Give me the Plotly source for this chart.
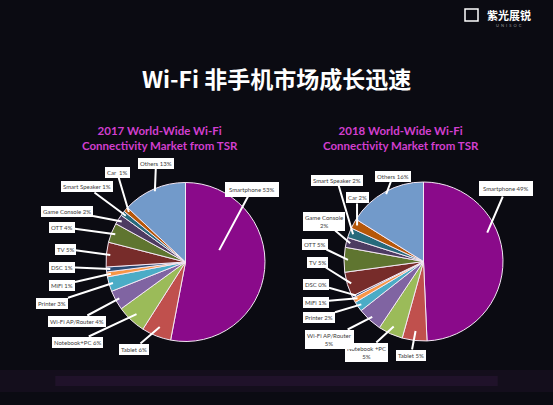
import math
import plotly.graph_objects as go

# ---------------- data ----------------
categories = ["Smartphone", "Tablet", "Notebook+PC", "Wi-Fi AP/Router", "Printer", "MiFi",
              "DSC", "TV", "OTT", "Game Console", "Smart Speaker", "Car", "Others"]
share_2017 = [53, 6, 6, 4, 3, 1, 1, 5, 4, 2, 1, 1, 13]
share_2018 = [49, 5, 5, 5, 2, 1, 0.4, 5, 5, 2, 2, 2, 16]
names_2017 = ["Smartphone", "Tablet", "Notebook+PC", "Wi-Fi AP/Router", "Printer", "MiFi",
              "DSC", "TV", "OTT", "Game Console", "Smart Speaker", "Car ", "Others"]
names_2018 = ["Smartphone", "Tablet", "Notebook +PC<br>", "Wi-Fi AP/Router<br>", "Printer", "MiFi",
              "DSC", "TV", "OTT", "Game Console<br>", "Smart Speaker", "Car", "Others"]
title_main = "Wi-Fi 非手机市场成长迅速"
title_2017 = "2017 World-Wide Wi-Fi<br>Connectivity Market from TSR"
title_2018 = "2018 World-Wide Wi-Fi<br>Connectivity Market from TSR"

colors = ["#8a0a8a", "#c0504d", "#9bbb59", "#8064a2", "#4bacc6", "#f79646",
          "#2c4d75", "#772c2a", "#5f7530", "#4d3b62", "#276a7c", "#b65708", "#729aca"]

W, H = 553, 405
BG = "#0b0b12"

# ---------------- layout constants (pixels) ----------------
pie_left = dict(cx=185.5, cy=262, r=79.5)
pie_right = dict(cx=423.5, cy=261.5, r=79.5)

box_2017 = [(252, 189), (134, 349), (77, 342), (77, 321), (52, 303), (62, 285), (62, 267),
            (65, 249), (62, 227), (67, 211), (87, 187), (117, 172), (156, 163)]
box_2018 = [(506, 189), (411, 355), (366, 352), (329, 339), (319, 317), (316, 302), (316, 284),
            (317, 262), (315, 244), (324, 221), (337, 180), (357, 198), (393, 176)]
tip_r_2017 = [0.45, 0.88, 0.9, 0.95, 0.95, 0.95, 0.95, 0.95, 0.95, 0.95, 0.95, 0.95, 0.97]
tip_r_2018 = [0.88, 0.88, 0.9, 0.95, 0.95, 0.95, 0.95, 0.95, 0.95, 0.95, 0.95, 0.95, 0.97]
tip_t = [0.37] + [0.5] * 12


def domain(p):
    return dict(x=[(p["cx"] - p["r"]) / W, (p["cx"] + p["r"]) / W],
                y=[1 - (p["cy"] + p["r"]) / H, 1 - (p["cy"] - p["r"]) / H])


fig = go.Figure()
for vals, p in ((share_2017, pie_left), (share_2018, pie_right)):
    fig.add_trace(go.Pie(
        labels=categories, values=vals, sort=False, direction="clockwise", rotation=0,
        marker=dict(colors=colors, line=dict(color="#f4e8f4", width=1)),
        textinfo="none", hoverinfo="label+value", showlegend=False, domain=domain(p)))

annotations = []


def add_callouts(vals, names, boxes, tip_r, p):
    total = sum(vals)
    cum = 0.0
    for i, v in enumerate(vals):
        start = cum / total * 360
        end = (cum + v) / total * 360
        cum += v
        ang = math.radians(start + (end - start) * tip_t[i])
        rr = p["r"] * tip_r[i]
        tx = p["cx"] + rr * math.sin(ang)
        ty = p["cy"] - rr * math.cos(ang)
        bx, by = boxes[i]
        sep = "" if names[i].endswith("<br>") else " "
        text = f"{names[i]}{sep}{round(v)}%"
        annotations.append(dict(
            x=tx / W, y=1 - ty / H, xref="paper", yref="paper",
            ax=bx - tx, ay=by - ty, axref="pixel", ayref="pixel",
            xanchor="center", yanchor="middle",
            text=text, showarrow=True, arrowhead=0, arrowwidth=2, arrowcolor="white",
            standoff=0, startstandoff=0,
            bgcolor="white", borderpad=2 if i else 4, bordercolor="white", borderwidth=0,
            font=dict(family="Lato, Open Sans, sans-serif", size=6, color="#404040")))


add_callouts(share_2017, names_2017, box_2017, tip_r_2017, pie_left)
add_callouts(share_2018, names_2018, box_2018, tip_r_2018, pie_right)


def label(x, y, text, font):
    annotations.append(dict(x=x / W, y=1 - y / H, xref="paper", yref="paper", showarrow=False,
                            xanchor="center", yanchor="middle", text=text, font=font))


# titles
label(276, 78, f"<b>{title_main}</b>", dict(family="Noto Sans CJK SC", size=23, color="white"))
for txt, cx in ((title_2017, 160), (title_2018, 401)):
    label(cx, 138.5, f"<b>{txt}</b>", dict(family="Lato, sans-serif", size=11.5, color="#d23fcf"))

# logo
label(509, 15, "<b>紫光展锐</b>", dict(family="Noto Sans CJK SC", size=11, color="white"))
label(509, 25, "U  N  I  S  O  C", dict(family="Lato", size=4, color="#9a9a9a"))

shapes = [
    dict(type="rect", xref="paper", yref="paper", x0=465 / W, x1=478 / W,
         y0=1 - 21 / H, y1=1 - 9 / H, line=dict(color="white", width=1.5), fillcolor=BG),
    dict(type="rect", xref="paper", yref="paper", x0=0, x1=1,
         y0=1 - 392 / H, y1=1 - 370 / H, line=dict(width=0),
         fillcolor="rgba(130,50,150,0.08)", layer="below"),
    dict(type="rect", xref="paper", yref="paper", x0=0.1, x1=0.9,
         y0=1 - 386 / H, y1=1 - 376 / H, line=dict(width=0),
         fillcolor="rgba(150,60,170,0.10)", layer="below"),
]

fig.update_layout(width=W, height=H, margin=dict(l=0, r=0, t=0, b=0),
                  paper_bgcolor=BG, plot_bgcolor=BG,
                  annotations=annotations, shapes=shapes)

fig.write_html("out.html", config={"displayModeBar": False},
               post_script="document.body.style.margin='0';document.body.style.background='%s';" % BG)
